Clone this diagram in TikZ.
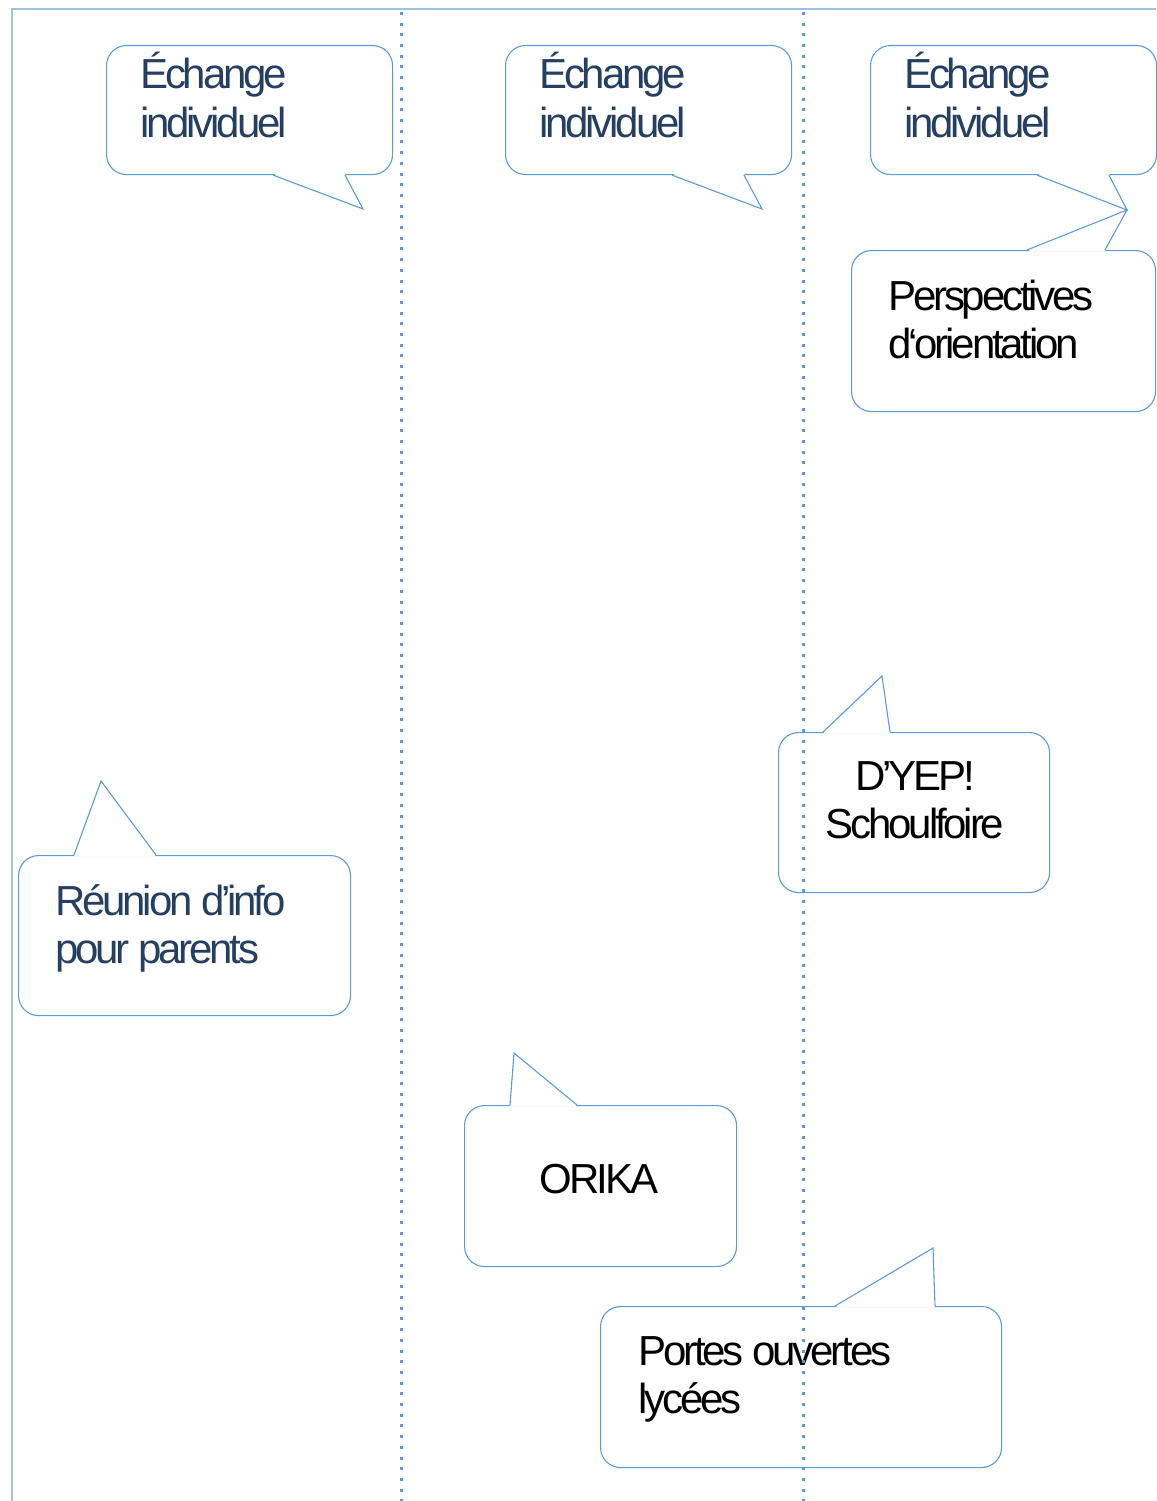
\documentclass[tikz,border=0pt]{standalone}
\usepackage{fontspec}
\setmainfont[LetterSpace=-7.5]{Liberation Sans}
\definecolor{callblue}{HTML}{5B9BD5}
\definecolor{frameblue}{HTML}{9DC3E6}
\definecolor{textnavy}{HTML}{243F60}
\newcommand{\calltail}[4]{%
	\fill[white] ([yshift=#4]#1) -- (#2) -- ([yshift=#4]#3) -- cycle;
	\draw[tailline] (#1) -- (#2) -- (#3);}
\begin{document}
\begin{tikzpicture}[x=1pt,y=-1pt,
	bubble/.style={draw=callblue, line width=1.1pt, rounded corners=20pt, anchor=north west, inner sep=0pt},
	tailline/.style={draw=callblue, line width=1.1pt, line join=miter},
	calltext/.style={anchor=base west, align=left, inner sep=0pt, font=\fontsize{42}{48}\selectfont},
	divider/.style={callblue, line width=3pt, dash pattern=on 3pt off 7.7pt}
	]
	\useasboundingbox (0,0) rectangle (1156,1501);
	\draw[frameblue, line width=1.7pt] (1156,9) -- (12,9) -- (12,1501);

	% bubbles
	\node[bubble, minimum width=286pt, minimum height=129pt] (echA) at (106,45) {};
	\node[bubble, minimum width=286pt, minimum height=129pt] (echB) at (505,45) {};
	\node[bubble, minimum width=286pt, minimum height=129pt] (echC) at (870,45) {};
	\node[bubble, minimum width=304pt, minimum height=161pt] (persp) at (851,250) {};
	\node[bubble, minimum width=271pt, minimum height=160pt] (dyep) at (778,732) {};
	\node[bubble, minimum width=332pt, minimum height=160pt] (reunion) at (18,855) {};
	\node[bubble, minimum width=272pt, minimum height=161pt] (orika) at (464,1105) {};
	\node[bubble, minimum width=401pt, minimum height=161pt] (portes) at (600,1306) {};

	% tails
	\foreach \b in {echA,echB,echC}
	  {
	      \coordinate (\b l) at ([xshift=167pt]\b.south west);
	      \coordinate (\b r) at ([xshift=239pt]\b.south west);
	  }
	\coordinate (echAtip) at (363,209);
	\coordinate (echBtip) at (762,209);
	\coordinate (echCtip) at (1127,210);
	\calltail{echAl}{echAtip}{echAr}{1.5pt}
	\calltail{echBl}{echBtip}{echBr}{1.5pt}
	\calltail{echCl}{echCtip}{echCr}{1.5pt}

	\coordinate (perspl) at ([xshift=176pt]persp.north west);
	\coordinate (perspr) at ([xshift=254pt]persp.north west);
	\calltail{perspl}{echCtip}{perspr}{-1.5pt}

	\coordinate (dyepl) at ([xshift=45pt]dyep.north west);
	\coordinate (dyepr) at ([xshift=112pt]dyep.north west);
	\coordinate (dyeptip) at (882,676);
	\calltail{dyepl}{dyeptip}{dyepr}{-1.5pt}

	\coordinate (reunionl) at ([xshift=56pt]reunion.north west);
	\coordinate (reunionr) at ([xshift=138pt]reunion.north west);
	\coordinate (reuniontip) at (101,781);
	\calltail{reunionl}{reuniontip}{reunionr}{-1.5pt}

	\coordinate (orikal) at ([xshift=46pt]orika.north west);
	\coordinate (orikar) at ([xshift=113pt]orika.north west);
	\coordinate (orikatip) at (514,1053);
	\calltail{orikal}{orikatip}{orikar}{-1.5pt}

	\coordinate (portesl) at ([xshift=235pt]portes.north west);
	\coordinate (portesr) at ([xshift=335pt]portes.north west);
	\coordinate (portestip) at (933,1248);
	\calltail{portesl}{portestip}{portesr}{-1.5pt}

	% texts (base = baseline of the last line)
	\node[calltext, text=textnavy] (echAtxt) at (140,137) {Échange\\individuel};
	\node[calltext, text=textnavy] (echBtxt) at (539,137) {Échange\\individuel};
	\node[calltext, text=textnavy] (echCtxt) at (904,137) {Échange\\individuel};
	\node[calltext] (persptxt) at (888,358) {Perspectives\\d‘orientation};
	\node[calltext, anchor=base, align=center] (dyeptxt) at (915,838) {D’YEP!\\Schoulfoire};
	\node[calltext, text=textnavy] (reuniontxt) at (55,963) {Réunion d’info\\pour parents};
	\node[calltext, anchor=base] (orikatxt) at (599,1193) {ORIKA};
	\node[calltext] (portestxt) at (638,1413) {Portes ouvertes\\lycées};

	% column dividers
	\foreach \x in {401,803}
	  \draw[divider] (\x,12) -- (\x,1501);
\end{tikzpicture}
\end{document}
